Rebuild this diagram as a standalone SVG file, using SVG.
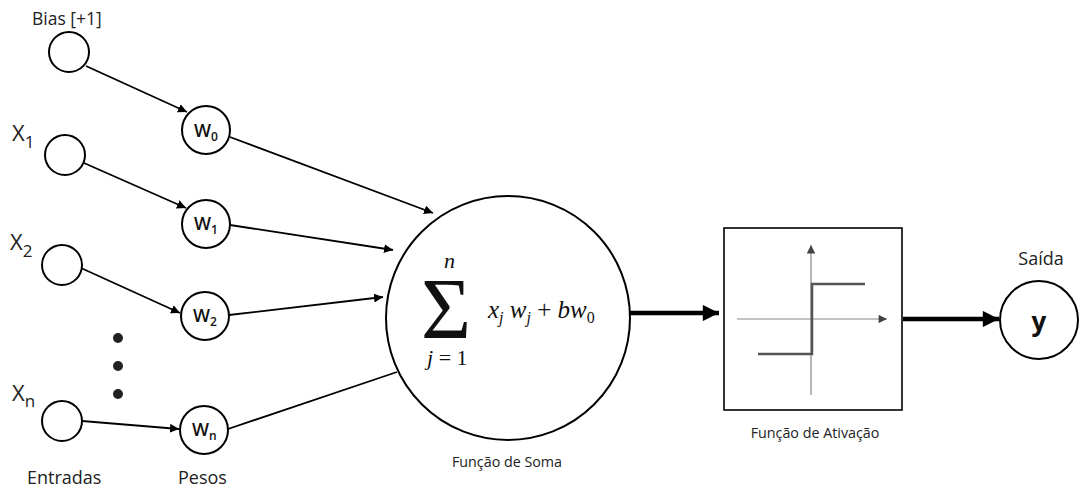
<svg xmlns="http://www.w3.org/2000/svg" width="1080" height="490" viewBox="0 0 1080 490">
  <style>
    .node { fill: #fff; stroke: #000; stroke-width: 2; }
    .lbl { font-family: "Open Sans", "Liberation Sans", sans-serif; fill: #222; }
    .w { font-family: "Open Sans", "Liberation Sans", sans-serif; font-weight: 600; fill: #111; }
    .math { font-family: "Liberation Serif", "DejaVu Serif", serif; font-style: italic; fill: #111; }
    .mathr { font-family: "Liberation Serif", "DejaVu Serif", serif; fill: #111; }
    .thin { stroke: #000; stroke-width: 1.8; fill: none; marker-end: url(#ah); }
    .thick { stroke: #000; stroke-width: 4.5; fill: none; marker-end: url(#ahb); }
  </style>
  <defs>
    <marker id="ah" viewBox="0 0 10 10" refX="10" refY="5" markerWidth="5" markerHeight="5" orient="auto" markerUnits="strokeWidth">
      <path d="M0,0 L10,5 L0,10 z" fill="#000"/>
    </marker>
    <marker id="ahb" viewBox="0 0 10 10" refX="10" refY="5" markerWidth="4.5" markerHeight="3.6" orient="auto" markerUnits="strokeWidth">
      <path d="M0,0 L10,5 L0,10 z" fill="#000"/>
    </marker>
    <marker id="ahg" viewBox="0 0 10 10" refX="10" refY="5" markerWidth="8" markerHeight="7" orient="auto" markerUnits="strokeWidth">
      <path d="M0,0 L10,5 L0,10 z" fill="#444"/>
    </marker>
  </defs>
  <rect width="1080" height="490" fill="#fff"/>

  <!-- connectors -->
  <g id="connectors">
    <line class="thin" x1="86" y1="66" x2="187" y2="112"/>
    <line class="thin" x1="84" y1="163" x2="186" y2="208"/>
    <line class="thin" x1="81" y1="268" x2="180" y2="313"/>
    <line class="thin" x1="82" y1="421" x2="179" y2="429"/>
    <line class="thin" x1="230" y1="137" x2="433" y2="213"/>
    <line class="thin" x1="230" y1="225" x2="393" y2="250"/>
    <line class="thin" x1="229" y1="315" x2="383" y2="297"/>
    <line stroke="#000" stroke-width="1.8" x1="228" y1="429" x2="397" y2="372"/>
    <line class="thick" x1="630" y1="313" x2="719" y2="313"/>
    <line class="thick" x1="903" y1="319" x2="999" y2="319"/>
  </g>

  <!-- inputs -->
  <g id="bias">
    <text class="lbl" x="32" y="25" font-size="17.5">Bias [+1]</text>
    <circle class="node" cx="69" cy="52" r="20"/>
  </g>
  <g id="x1">
    <text class="lbl" x="12" y="141" font-size="22">X<tspan font-size="17" dy="7">1</tspan></text>
    <circle class="node" cx="65" cy="155" r="20"/>
  </g>
  <g id="x2">
    <text class="lbl" x="10" y="250" font-size="22">X<tspan font-size="17" dy="7">2</tspan></text>
    <circle class="node" cx="62" cy="265" r="20"/>
  </g>
  <g id="dots">
    <circle cx="118" cy="338" r="5" fill="#222"/>
    <circle cx="118" cy="366" r="5" fill="#222"/>
    <circle cx="118" cy="394" r="5" fill="#222"/>
  </g>
  <g id="xn">
    <text class="lbl" x="12" y="401" font-size="22">X<tspan font-size="17" dy="6">n</tspan></text>
    <circle class="node" cx="62" cy="421" r="20"/>
  </g>
  <text class="lbl" x="27" y="484" font-size="18">Entradas</text>
  <text class="lbl" x="178" y="484" font-size="18">Pesos</text>

  <!-- weights -->
  <g id="w0">
    <circle class="node" cx="206" cy="130" r="24"/>
    <text class="w" x="194" y="137" font-size="18">W<tspan font-size="12" dy="4">0</tspan></text>
  </g>
  <g id="w1">
    <circle class="node" cx="206" cy="224" r="24"/>
    <text class="w" x="194" y="230" font-size="18">W<tspan font-size="12" dy="4">1</tspan></text>
  </g>
  <g id="w2">
    <circle class="node" cx="205" cy="316" r="24"/>
    <text class="w" x="193" y="322" font-size="18">W<tspan font-size="12" dy="4">2</tspan></text>
  </g>
  <g id="wn">
    <circle class="node" cx="204" cy="430" r="24"/>
    <text class="w" x="192" y="436" font-size="18">W<tspan font-size="12" dy="4">n</tspan></text>
  </g>

  <!-- summation -->
  <g id="soma">
    <circle class="node" cx="508" cy="318" r="122"/>
    <text class="math" x="444" y="268" font-size="22">n</text>
    <text class="mathr" x="421" y="338" font-size="86">Σ</text>
    <text class="math" x="427" y="365" font-size="22">j<tspan class="mathr" font-style="normal"> = 1</tspan></text>
    <text class="math" x="488" y="318" font-size="25">x<tspan font-size="16" dy="5">j</tspan><tspan dy="-5"> w</tspan><tspan font-size="16" dy="5">j</tspan><tspan dy="-5" font-style="normal"> + </tspan>bw<tspan font-size="16" dy="5" font-style="normal">0</tspan></text>
    <text class="lbl" x="507" y="467" font-size="14.3" text-anchor="middle">Função de Soma</text>
  </g>

  <!-- activation -->
  <g id="ativacao">
    <rect x="724" y="228" width="178" height="182" fill="#fff" stroke="#000" stroke-width="1.6"/>
    <line x1="811" y1="395" x2="811" y2="245" stroke="#888" stroke-width="1.2" marker-end="url(#ahg)"/>
    <line x1="737" y1="319" x2="887" y2="319" stroke="#888" stroke-width="1.2" marker-end="url(#ahg)"/>
    <path d="M758,354 H812 V284 H865" fill="none" stroke="#555" stroke-width="2.5"/>
    <text class="lbl" x="815" y="438" font-size="14.3" text-anchor="middle">Função de Ativação</text>
  </g>

  <!-- output -->
  <g id="saida">
    <text class="lbl" x="1041" y="265" font-size="18" text-anchor="middle">Saída</text>
    <circle class="node" cx="1039" cy="320" r="39"/>
    <text x="1039" y="331" font-size="26" font-weight="bold" text-anchor="middle" font-family="Open Sans, Liberation Sans, sans-serif" fill="#111">y</text>
  </g>
</svg>
